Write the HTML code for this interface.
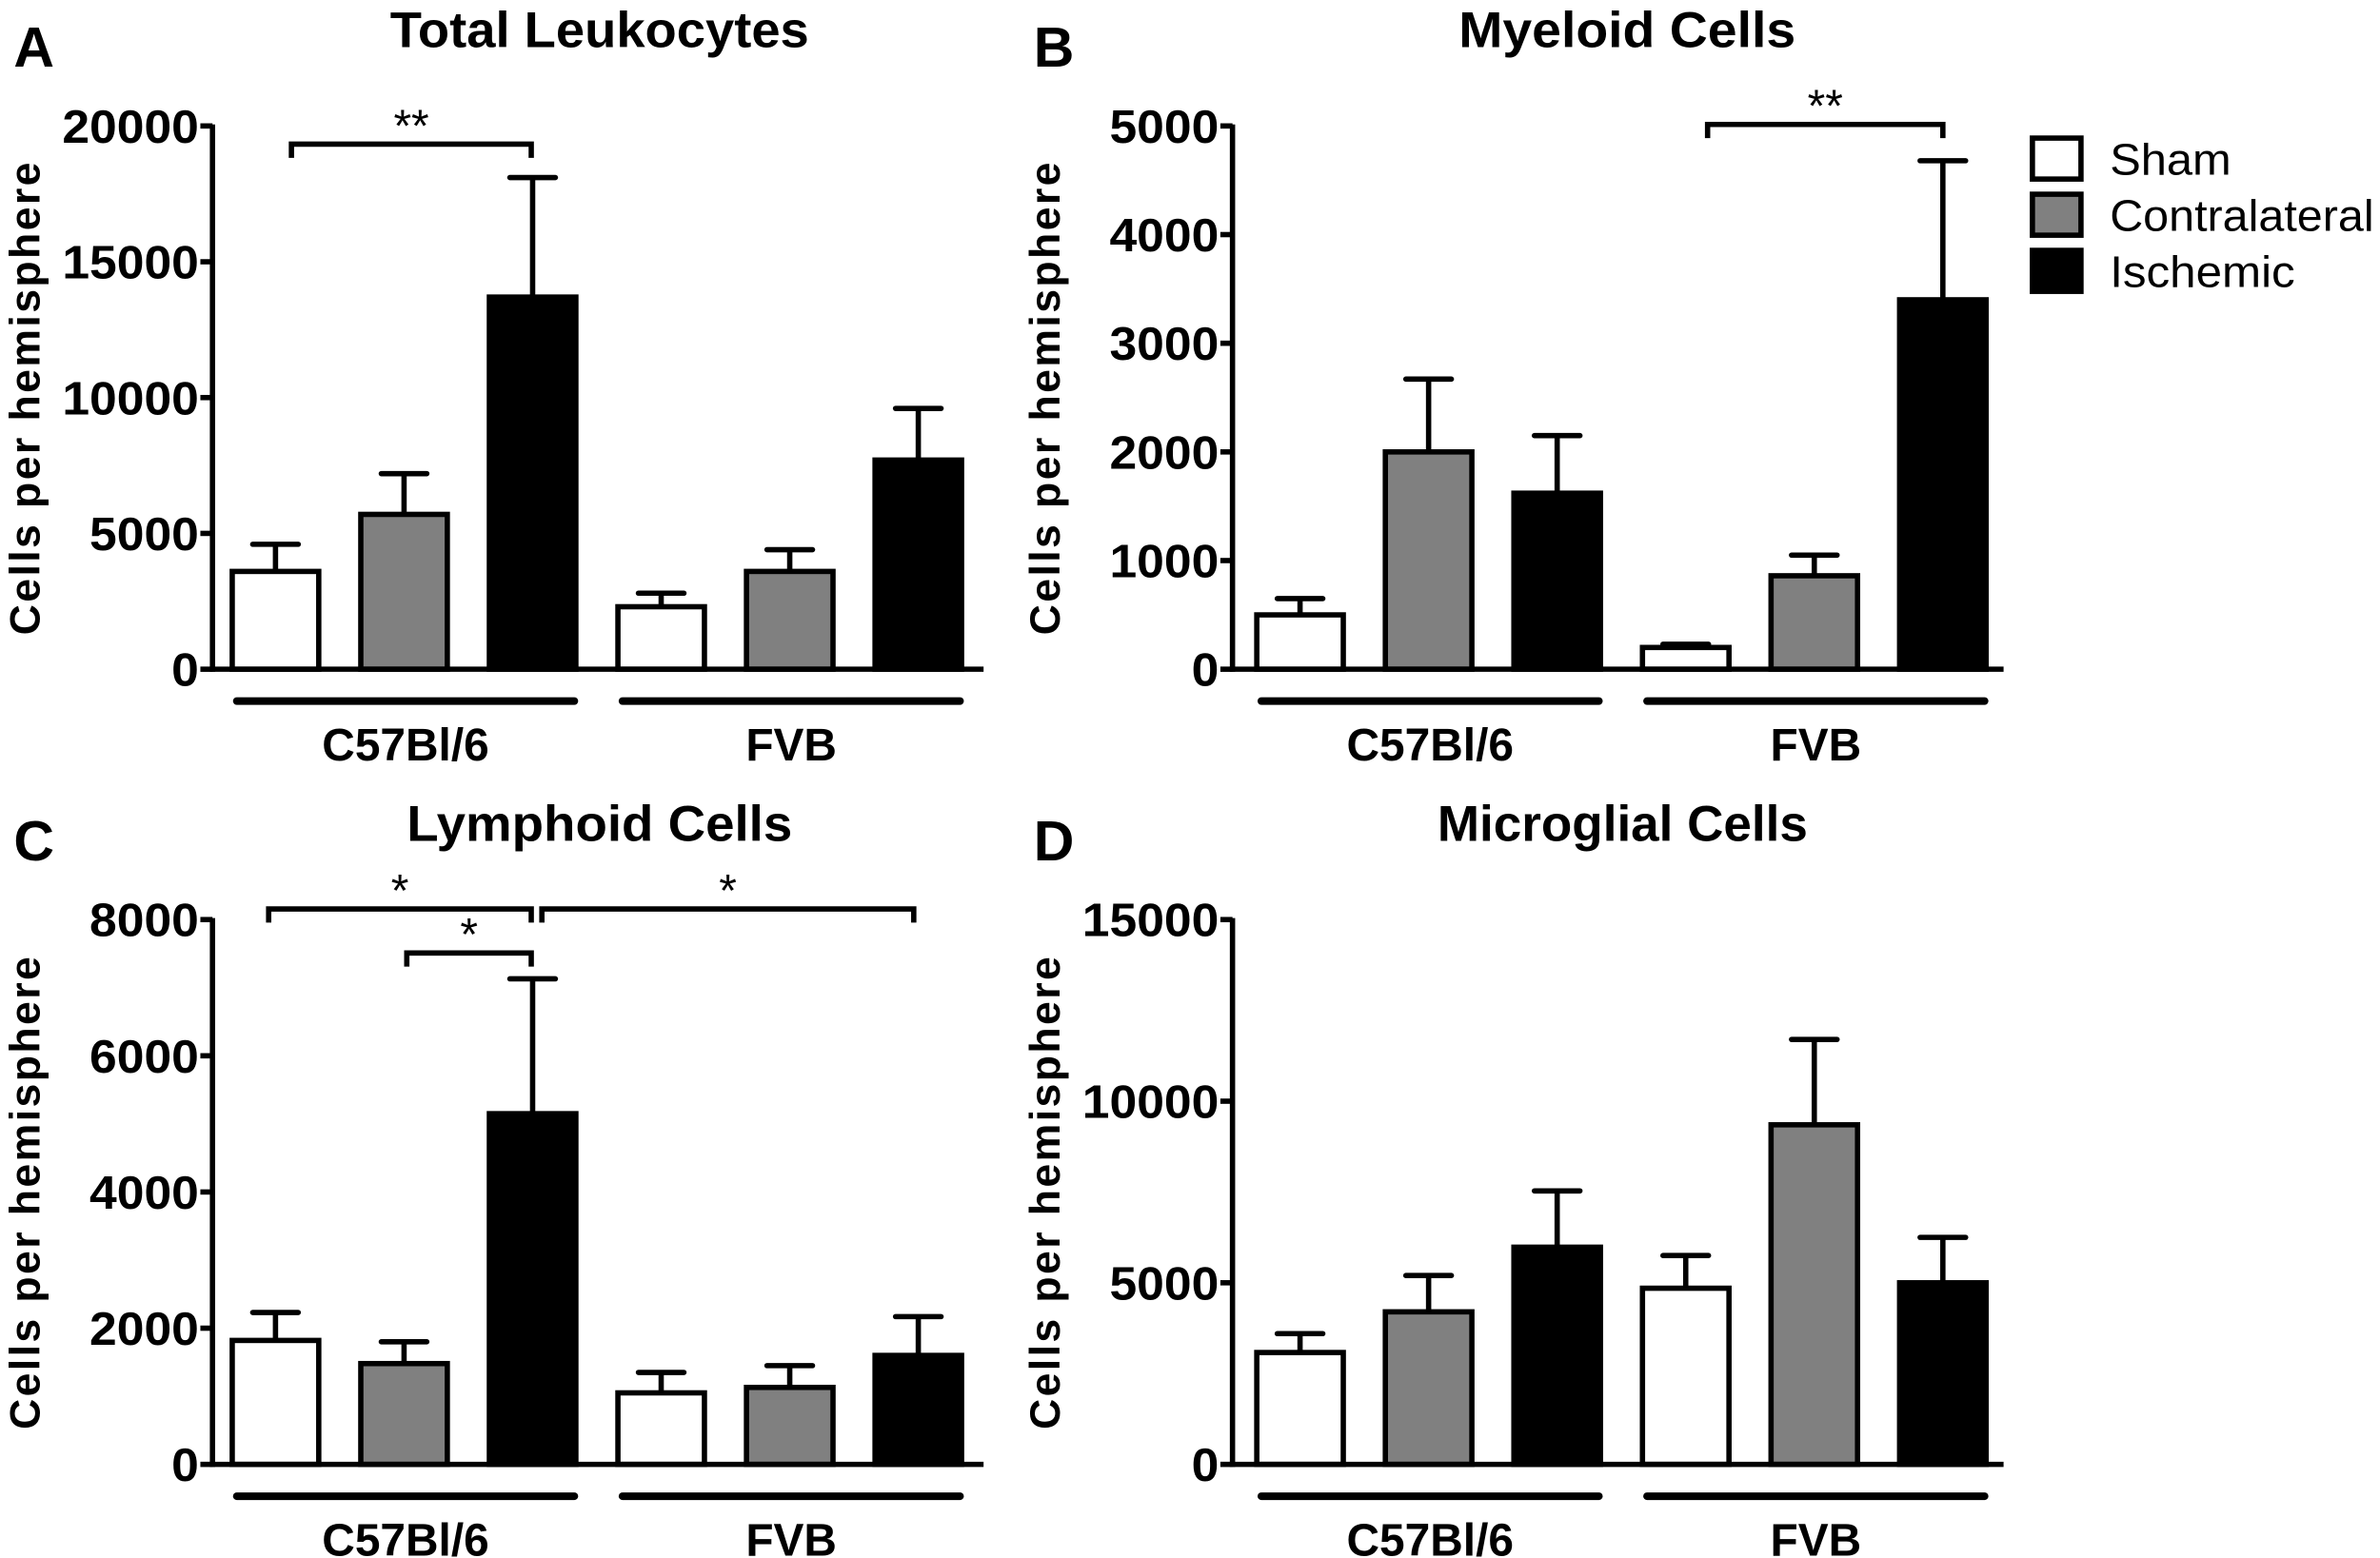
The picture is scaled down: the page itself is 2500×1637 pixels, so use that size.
<!DOCTYPE html>
<html><head><meta charset="utf-8"><style>
html,body{margin:0;padding:0;background:#fff;}
svg{display:block;}
text{font-family:"Liberation Sans Narrow","Liberation Sans",sans-serif;}
</style></head><body>
<svg id="fig" xmlns="http://www.w3.org/2000/svg" width="2500" height="1637" viewBox="0 0 1568 1026.7" preserveAspectRatio="none">
<g>
<rect x="1339" y="91" width="32" height="27" fill="#fff" stroke="#000" stroke-width="3.5"/>
<text x="1390" y="115" font-size="29" textLength="80" lengthAdjust="spacingAndGlyphs">Sham</text>
<rect x="1339" y="128" width="32" height="27" fill="#808080" stroke="#000" stroke-width="3.5"/>
<text x="1390" y="152" font-size="29" textLength="174" lengthAdjust="spacingAndGlyphs">Contralateral</text>
<rect x="1339" y="165" width="32" height="27" fill="#000" stroke="#000" stroke-width="3.5"/>
<text x="1390" y="189" font-size="29" textLength="122" lengthAdjust="spacingAndGlyphs">Ischemic</text>
</g>
</svg>
<script>
const groups = ["C57Bl/6", "FVB"];
const seriesNames = ["Sham", "Contralateral", "Ischemic"];
const leukoMeans = [3600, 5700, 13700, 2300, 3600, 7700];
const leukoErr = [4600, 7200, 18100, 2800, 4400, 9600];
const leukoTicks = [0, 5000, 10000, 15000, 20000];
const myeloMeans = [500, 2000, 1620, 200, 860, 3400];
const myeloErr = [650, 2670, 2150, 230, 1050, 4680];
const myeloTicks = [0, 1000, 2000, 3000, 4000, 5000];
const lymphMeans = [1820, 1480, 5150, 1050, 1130, 1600];
const lymphErr = [2230, 1800, 7130, 1350, 1450, 2170];
const lymphTicks = [0, 2000, 4000, 6000, 8000];
const microMeans = [3080, 4200, 5980, 4850, 9350, 5000];
const microErr = [3600, 5200, 7530, 5750, 11700, 6250];
const microTicks = [0, 5000, 10000, 15000];

const NS = "http://www.w3.org/2000/svg";
const svg = document.getElementById("fig");
const fills = ["#fff", "#808080", "#000"];
function mk(tag, attrs, parent){const e=document.createElementNS(NS,tag);for(const k in attrs)e.setAttribute(k,attrs[k]);(parent||svg).appendChild(e);return e;}

function panel(cfg){
  const g = mk("g",{});
  
  
  const x0=cfg.x0, yTop=cfg.yTop, y0=cfg.y0, max=cfg.ticks[cfg.ticks.length-1];
  const yS = v => y0 - (v/max)*(y0-yTop);
  const xS = i => x0 + cfg.off + i*84.7;
  const t = mk("text",{x:cfg.titleX,y:cfg.titleY,"font-size":33,"font-weight":"bold","text-anchor":"middle",textLength:cfg.titleW,lengthAdjust:"spacingAndGlyphs"},g);
  t.textContent = cfg.title;
  
  
  const L = mk("text",{x:cfg.x0-131,y:cfg.titleY+13,"font-size":37,"font-weight":"bold"},g);
  L.textContent = cfg.letter;
  
  
  const yl = mk("text",{x:0,y:0,"font-size":28,"font-weight":"bold","text-anchor":"middle","letter-spacing":"1.5",transform:`translate(${x0-114},${(yTop+y0)/2}) rotate(-90)`,style:"font-family:'Liberation Sans',sans-serif"},g);
  yl.textContent = "Cells per hemisphere";
  
  
  for(let i=0;i<6;i++){
    const bx = xS(i), v = cfg.means[i], e = cfg.err[i];
    const cx = bx + 28.5;
    const el = mk("line",{x1:cx,x2:cx,y1:yS(v),y2:yS(e),stroke:"#000","stroke-width":3.5},g);
    
    
    const cap = mk("line",{x1:cx-15,x2:cx+15,y1:yS(e),y2:yS(e),stroke:"#000","stroke-width":3.5,"stroke-linecap":"round"},g);
    
    
    const r = mk("rect",{x:bx,y:yS(v),width:57,height:y0-yS(v),fill:fills[i%3],stroke:"#000","stroke-width":3.5},g);
    
    
  }
  const ya = mk("line",{x1:x0,x2:x0,y1:yTop-1,y2:y0+1.75,stroke:"#000","stroke-width":3.5},g);
  
  
  const xa = mk("line",{x1:x0-1.75,x2:x0+508,y1:y0,y2:y0,stroke:"#000","stroke-width":3.5},g);
  
  
  cfg.ticks.forEach(tv=>{
    const tk = mk("line",{x1:x0-8,x2:x0,y1:yS(tv),y2:yS(tv),stroke:"#000","stroke-width":3.5},g);
    
    
    const s = String(tv);
    const tl = mk("text",{x:x0-9,y:yS(tv)+11,"font-size":31,"font-weight":"bold","text-anchor":"end",textLength:s.length*18,lengthAdjust:"spacingAndGlyphs"},g);
    tl.textContent = s;
    
    
  });
  groups.forEach((gn,gi)=>{
    const a = xS(gi*3)+3, b = xS(gi*3+2)+56;
    const gl = mk("line",{x1:a,x2:b,y1:y0+21,y2:y0+21,stroke:"#000","stroke-width":5,"stroke-linecap":"round"},g);
    
    
    const gt = mk("text",{x:(a+b)/2,y:y0+60,"font-size":30,"font-weight":"bold","text-anchor":"middle"},g);
    gt.textContent = gn;
    
    
  });
  cfg.brackets.forEach(br=>{
    const p = mk("polyline",{points:`${br[0]},${br[2]+9} ${br[0]},${br[2]} ${br[1]},${br[2]} ${br[1]},${br[2]+9}`,fill:"none",stroke:"#000","stroke-width":3.5},g);
    
    
    const st = mk("text",{x:(br[0]+br[1])/2,y:br[2]-2,"font-size":30,"text-anchor":"middle"},g);
    st.textContent = br[3];
    
    
  });
}
panel({name:"panel-a-total-leukocytes",letter:"A",title:"Total Leukocytes",titleX:395,titleW:276,off:13,x0:140,yTop:83,y0:441,titleY:31,ticks:leukoTicks,means:leukoMeans,err:leukoErr,brackets:[[192,350,95,"**"]]});
panel({name:"panel-b-myeloid-cells",letter:"B",title:"Myeloid Cells",titleX:1072,titleW:222,off:16,x0:812,yTop:83,y0:441,titleY:31,ticks:myeloTicks,means:myeloMeans,err:myeloErr,brackets:[[1125,1280,82,"**"]]});
panel({name:"panel-c-lymphoid-cells",letter:"C",title:"Lymphoid Cells",titleX:395,titleW:254,off:13,x0:140,yTop:606,y0:965,titleY:554,ticks:lymphTicks,means:lymphMeans,err:lymphErr,brackets:[[177,350,599,"*"],[268,350,628,"*"],[357,602,599,"*"]]});
panel({name:"panel-d-microglial-cells",letter:"D",title:"Microglial Cells",titleX:1069,titleW:244,off:16,x0:812,yTop:606,y0:965,titleY:554,ticks:microTicks,means:microMeans,err:microErr,brackets:[]});
</script>
</body></html>
